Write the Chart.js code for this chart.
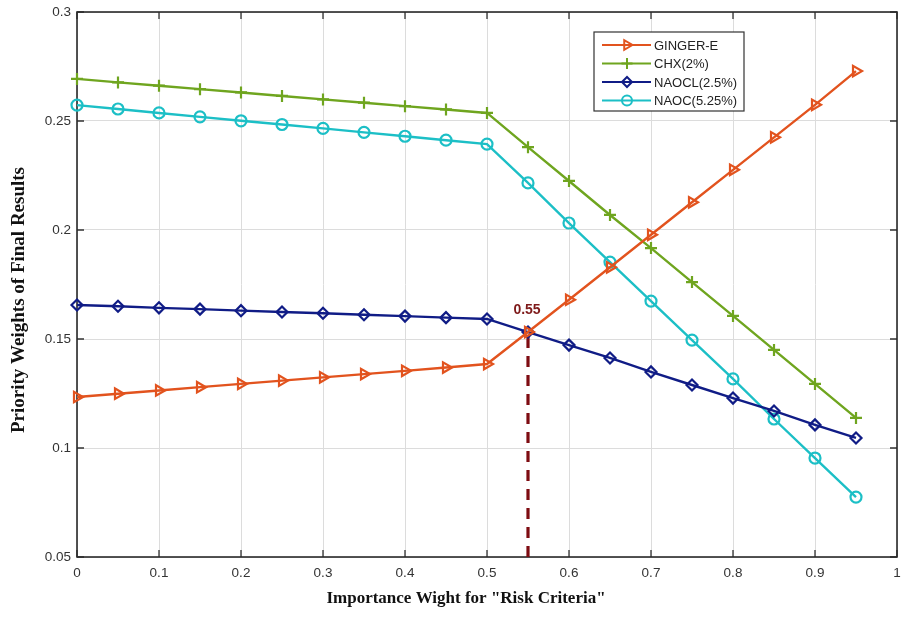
<!DOCTYPE html>
<html><head><meta charset="utf-8">
<script src="https://cdn.jsdelivr.net/npm/chart.js@4.4.1/dist/chart.umd.min.js"></script>
<style>html,body{margin:0;padding:0;background:#fff}#wrap{width:901px;height:617px}</style>
</head><body><div id="wrap"><canvas id="c" width="901" height="617"></canvas></div>
<script>
const weights = [0,0.05,0.1,0.15,0.2,0.25,0.3,0.35,0.4,0.45,0.5,0.55,0.6,0.65,0.7,0.75,0.8,0.85,0.9,0.95];
const gingerE = [0.1234,0.1249,0.1264,0.1279,0.1294,0.1309,0.1324,0.1339,0.1354,0.1369,0.1385,0.1532,0.1680,0.1829,0.1978,0.2127,0.2276,0.2425,0.2574,0.2729];
const chx2 = [0.2693,0.2677,0.2662,0.2646,0.2631,0.2615,0.2599,0.2584,0.2568,0.2553,0.2537,0.2380,0.2225,0.2069,0.1917,0.1761,0.1606,0.1450,0.1294,0.1138];
const naocl25 = [0.1656,0.1650,0.1643,0.1637,0.1630,0.1624,0.1618,0.1611,0.1605,0.1598,0.1592,0.1532,0.1472,0.1413,0.1349,0.1289,0.1229,0.1170,0.1106,0.1046];
const naoc525 = [0.2573,0.2555,0.2537,0.2519,0.2501,0.2484,0.2466,0.2448,0.2430,0.2412,0.2394,0.2216,0.2032,0.1853,0.1674,0.1495,0.1317,0.1133,0.0954,0.0775];
const seriesNames = ['GINGER-E','CHX(2%)','NAOCL(2.5%)','NAOC(5.25%)'];
const xTickLabels = ['0','0.1','0.2','0.3','0.4','0.5','0.6','0.7','0.8','0.9','1'];
const yTickLabels = ['0.05','0.1','0.15','0.2','0.25','0.3'];
const xTitle = 'Importance Wight for "Risk Criteria"';
const yTitle = 'Priority Weights of Final Results';
const markerX = 0.55;
const markerTop = 0.1532;
const markerLabel = '0.55';

const pts = arr => arr.map((v,i)=>({x:weights[i],y:v}));
const styles = [
  {color:'#E2531E', ps:'triangle', rot:90, r:6},
  {color:'#6FA51F', ps:'cross', rot:0, r:6},
  {color:'#101C86', ps:'rectRot', rot:0, r:5.5},
  {color:'#1CBFC6', ps:'circle', rot:0, r:5.5}
];
const data = [gingerE, chx2, naocl25, naoc525];
const datasets = data.map((d,i)=>({
  label: seriesNames[i], data: pts(d), borderColor: styles[i].color, backgroundColor:'rgba(255,255,255,0)',
  borderWidth: 2.4, pointStyle: styles[i].ps, pointRotation: styles[i].rot, pointRadius: styles[i].r,
  pointBorderWidth: 2.2, pointBorderColor: styles[i].color, pointBackgroundColor:'rgba(255,255,255,0)', tension:0, clip:false
}));
datasets.push({label:'_marker', data:[{x:markerX,y:0.05},{x:markerX,y:markerTop}], borderColor:'#7E0C12', borderWidth:3.2,
  borderDash:[11,8], pointRadius:0, fill:false});

const extras = {
  id:'extras',
  beforeDatasetsDraw(chart){
    const {ctx, chartArea:a} = chart;
    ctx.save();
    ctx.strokeStyle='#333'; ctx.lineWidth=1.3;
    const xs = chart.scales.x, ys = chart.scales.y;
    xTickLabels.forEach(t=>{const p=xs.getPixelForValue(parseFloat(t));
      ctx.beginPath();ctx.moveTo(p,a.bottom);ctx.lineTo(p,a.bottom-7);ctx.moveTo(p,a.top);ctx.lineTo(p,a.top+7);ctx.stroke();});
    yTickLabels.forEach(t=>{const p=ys.getPixelForValue(parseFloat(t));
      ctx.beginPath();ctx.moveTo(a.left,p);ctx.lineTo(a.left+7,p);ctx.moveTo(a.right,p);ctx.lineTo(a.right-7,p);ctx.stroke();});
    ctx.strokeStyle='#2a2a2a'; ctx.lineWidth=1.6;
    ctx.strokeRect(a.left,a.top,a.right-a.left,a.bottom-a.top);
    // axis titles
    ctx.fillStyle='#111'; ctx.textAlign='center'; ctx.textBaseline='middle';
    ctx.font='bold 17px "Liberation Serif", "Times New Roman", serif';
    ctx.fillText(xTitle, 466, 599);
    ctx.save(); ctx.translate(19, 300); ctx.rotate(-Math.PI/2);
    ctx.font='bold 19px "Liberation Serif", "Times New Roman", serif';
    ctx.fillText(yTitle, 0, 0);
    ctx.restore();
    ctx.restore();
  },
  afterDatasetsDraw(chart){
    const {ctx} = chart;
    const xs = chart.scales.x, ys = chart.scales.y;
    ctx.save();
    ctx.fillStyle='#7E1A1A'; ctx.font='bold 14px "Liberation Sans", Arial, sans-serif';
    ctx.textAlign='center'; ctx.textBaseline='bottom';
    ctx.fillText(markerLabel, xs.getPixelForValue(markerX)-1, ys.getPixelForValue(markerTop)-15);
    // legend
    const lx=594, ly=32, lw=150, lh=79;
    ctx.fillStyle='#fff'; ctx.fillRect(lx,ly,lw,lh);
    ctx.strokeStyle='#333'; ctx.lineWidth=1.2; ctx.strokeRect(lx,ly,lw,lh);
    ctx.font='13px "Liberation Sans", Arial, sans-serif'; ctx.textAlign='left'; ctx.textBaseline='middle';
    seriesNames.forEach((n,i)=>{
      const y = ly+13+i*18.5;
      ctx.strokeStyle=styles[i].color; ctx.lineWidth=2.2;
      ctx.beginPath(); ctx.moveTo(lx+8,y); ctx.lineTo(lx+57,y); ctx.stroke();
      ctx.fillStyle='rgba(255,255,255,0)'; ctx.lineWidth=2;
      Chart.helpers.drawPoint(ctx,{pointStyle:styles[i].ps, rotation:styles[i].rot, radius:styles[i].r-0.5, borderWidth:2}, lx+33, y);
      ctx.fillStyle='#222'; ctx.fillText(n, lx+60, y+1);
    });
    ctx.restore();
  }
};

new Chart(document.getElementById('c'), {
  type:'line',
  data:{datasets},
  options:{
    responsive:false, animation:false, devicePixelRatio:1,
    layout:{autoPadding:false, padding:{left:0,right:4,top:12,bottom:0}},
    plugins:{legend:{display:false}, tooltip:{enabled:false}},
    scales:{
      x:{type:'linear', min:0, max:1,
        afterBuildTicks(s){s.ticks = xTickLabels.map(t=>({value:parseFloat(t)}));},
        afterFit(s){s.height=60; s.paddingRight=0; s.paddingLeft=0;},
        ticks:{callback:(v,i)=>xTickLabels[i], color:'#333', font:{family:'"Liberation Sans", Arial, sans-serif', size:13.5}, padding:8, maxRotation:0, autoSkip:false},
        grid:{color:'#dcdcdc', lineWidth:1, drawTicks:false},
        border:{display:false}
      },
      y:{type:'linear', min:0.05, max:0.3,
        afterBuildTicks(s){s.ticks = yTickLabels.map(t=>({value:parseFloat(t)}));},
        afterFit(s){s.width=77; s.paddingTop=0; s.paddingBottom=0;},
        ticks:{callback:(v,i)=>yTickLabels[i], color:'#333', font:{family:'"Liberation Sans", Arial, sans-serif', size:13.5}, padding:6, autoSkip:false},
        grid:{color:'#dcdcdc', lineWidth:1, drawTicks:false},
        border:{display:false}
      }
    }
  },
  plugins:[extras]
});
</script></body></html>
